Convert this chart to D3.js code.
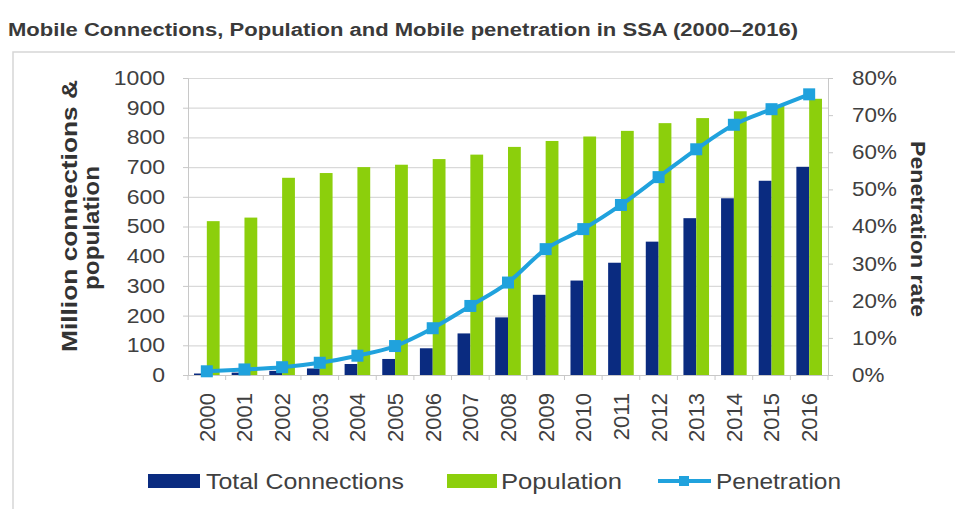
<!DOCTYPE html>
<html>
<head>
<meta charset="utf-8">
<script src="https://cdn.jsdelivr.net/npm/d3@7/dist/d3.min.js"></script>
<style>
  html, body { margin: 0; padding: 0; background: #fff; }
  svg { display: block; }
  text { font-family: "Liberation Sans", Arial, sans-serif; }
</style>
</head>
<body>
<svg id="chart" width="955" height="509"></svg>
<script>
const years = ["2000","2001","2002","2003","2004","2005","2006","2007","2008","2009","2010","2011","2012","2013","2014","2015","2016"];
const connections = [5, 8, 14, 22, 37, 54, 90, 140, 194, 270, 318, 378, 449, 528, 595, 654, 701];
const population = [518, 530, 664, 680, 700, 708, 727, 742, 768, 788, 803, 822, 848, 865, 888, 910, 930];
const penetration = [0.010, 0.015, 0.021, 0.033, 0.052, 0.078, 0.126, 0.186, 0.249, 0.339, 0.393, 0.458, 0.533, 0.608, 0.674, 0.716, 0.756];
const leftTicks = [0, 100, 200, 300, 400, 500, 600, 700, 800, 900, 1000];
const rightTicks = [0, 0.1, 0.2, 0.3, 0.4, 0.5, 0.6, 0.7, 0.8];
const seriesNames = ["Total Connections", "Population", "Penetration"];
const title = "Mobile Connections, Population and Mobile penetration in SSA (2000\u20132016)";

const C_NAVY = "#0a2b80", C_GREEN = "#8ccf0c", C_BLUE = "#20a2dd";
const svg = d3.select("#chart");

const plot = {left: 188, right: 828, top: 78, bottom: 375};
const x = d3.scaleBand().domain(years).range([plot.left, plot.right]).paddingInner(0).paddingOuter(0);
const sub = d3.scaleBand().domain(["c","p"]).range([0, x.bandwidth()]).paddingInner(0).paddingOuter(0.47);
const yL = d3.scaleLinear().domain([0, 1000]).range([plot.bottom, plot.top]);
const yR = d3.scaleLinear().domain([0, 0.8]).range([plot.bottom, plot.top]);

function stretch(sel, k) {
  sel.each(function() {
    const w = this.getComputedTextLength();
    d3.select(this).attr("textLength", w * k).attr("lengthAdjust", "spacingAndGlyphs");
  });
}

// outer frame
svg.append("rect").attr("x", 13).attr("y", 52).attr("width", 960).attr("height", 480)
  .attr("fill", "none").attr("stroke", "#d6d6d6").attr("stroke-width", 1.5);

// title
svg.append("text").attr("x", 8).attr("y", 36).attr("font-size", 18).attr("font-weight", "bold")
  .attr("fill", "#3a3a3a").attr("textLength", 790).attr("lengthAdjust", "spacingAndGlyphs").text(title);

// gridlines
svg.append("g").selectAll("line").data(leftTicks.filter(d => d > 0)).join("line")
  .attr("x1", plot.left).attr("x2", plot.right)
  .attr("y1", d => yL(d) + 0.5).attr("y2", d => yL(d) + 0.5)
  .attr("stroke", "#d9d9d9").attr("stroke-width", 1.2);

// left axis
const gL = svg.append("g").attr("transform", `translate(${plot.left},0)`)
  .call(d3.axisLeft(yL).tickValues(leftTicks).tickSize(5).tickPadding(18).tickFormat(d3.format("d")));
gL.select(".domain").attr("stroke", "#c8c8c8");
gL.selectAll(".tick line").attr("stroke", "#c8c8c8");
gL.selectAll("text").attr("font-size", 20).attr("fill", "#404040").attr("font-family", "Liberation Sans, Arial, sans-serif");
stretch(gL.selectAll("text"), 1.15);

// right axis
const gR = svg.append("g").attr("transform", `translate(${plot.right},0)`)
  .call(d3.axisRight(yR).tickValues(rightTicks).tickSize(5).tickPadding(19).tickFormat(d3.format(".0%")));
gR.select(".domain").attr("stroke", "#c8c8c8");
gR.selectAll(".tick line").attr("stroke", "#c8c8c8");
gR.selectAll("text").attr("font-size", 20).attr("fill", "#404040").attr("font-family", "Liberation Sans, Arial, sans-serif");
stretch(gR.selectAll("text"), 1.12);

// bottom axis
const gB = svg.append("g").attr("transform", `translate(0,${plot.bottom})`);
gB.append("line").attr("x1", plot.left).attr("x2", plot.right).attr("y1", 0.5).attr("y2", 0.5).attr("stroke", "#c8c8c8");
gB.selectAll("line.tk").data(years.concat(["end"])).join("line").attr("class", "tk")
  .attr("x1", (d, i) => i < years.length ? x(d) : plot.right)
  .attr("x2", (d, i) => i < years.length ? x(d) : plot.right)
  .attr("y1", 0).attr("y2", 5).attr("stroke", "#c8c8c8");
gB.selectAll("text").data(years).join("text")
  .attr("transform", d => `translate(${x(d) + x.bandwidth() / 2},18) rotate(-90)`)
  .attr("text-anchor", "end").attr("dy", "0.36em")
  .attr("font-size", 22).attr("fill", "#404040").text(d => d);

// bars
const bars = svg.append("g");
bars.selectAll("rect.c").data(years).join("rect").attr("class", "c")
  .attr("x", d => x(d) + sub("c")).attr("width", sub.bandwidth())
  .attr("y", (d, i) => yL(connections[i])).attr("height", (d, i) => yL(0) - yL(connections[i]))
  .attr("fill", C_NAVY);
bars.selectAll("rect.p").data(years).join("rect").attr("class", "p")
  .attr("x", d => x(d) + sub("p")).attr("width", sub.bandwidth())
  .attr("y", (d, i) => yL(population[i])).attr("height", (d, i) => yL(0) - yL(population[i]))
  .attr("fill", C_GREEN);

// penetration line
const line = d3.line().x((d, i) => x(years[i]) + x.bandwidth() / 2).y(d => yR(d)).curve(d3.curveMonotoneX);
svg.append("path").datum(penetration).attr("d", line).attr("fill", "none")
  .attr("stroke", C_BLUE).attr("stroke-width", 4);
svg.append("g").selectAll("rect").data(penetration).join("rect")
  .attr("x", (d, i) => x(years[i]) + x.bandwidth() / 2 - 6).attr("y", d => yR(d) - 6)
  .attr("width", 12).attr("height", 12).attr("fill", C_BLUE);

// axis titles
svg.append("text").attr("transform", "translate(77,216) rotate(-90)").attr("text-anchor", "middle")
  .attr("font-size", 22).attr("font-weight", "bold").attr("fill", "#333")
  .attr("textLength", 272).attr("lengthAdjust", "spacingAndGlyphs").text("Million connections &");
svg.append("text").attr("transform", "translate(99,228) rotate(-90)").attr("text-anchor", "middle")
  .attr("font-size", 22).attr("font-weight", "bold").attr("fill", "#333")
  .attr("textLength", 124).attr("lengthAdjust", "spacingAndGlyphs").text("population");
svg.append("text").attr("transform", "translate(911,229) rotate(90)").attr("text-anchor", "middle")
  .attr("font-size", 21).attr("font-weight", "bold").attr("fill", "#333")
  .attr("textLength", 176).attr("lengthAdjust", "spacingAndGlyphs").text("Penetration rate");

// legend
const lg = svg.append("g");
const ly = 481;
lg.append("rect").attr("x", 148).attr("y", ly - 7).attr("width", 52).attr("height", 14).attr("fill", C_NAVY);
lg.append("text").attr("x", 206).attr("y", ly).attr("dy", "0.36em").attr("font-size", 22).attr("fill", "#404040")
  .attr("textLength", 198).attr("lengthAdjust", "spacingAndGlyphs").text(seriesNames[0]);
lg.append("rect").attr("x", 447).attr("y", ly - 7).attr("width", 50).attr("height", 14).attr("fill", C_GREEN);
lg.append("text").attr("x", 501).attr("y", ly).attr("dy", "0.36em").attr("font-size", 22).attr("fill", "#404040")
  .attr("textLength", 121).attr("lengthAdjust", "spacingAndGlyphs").text(seriesNames[1]);
lg.append("line").attr("x1", 658).attr("x2", 711).attr("y1", ly).attr("y2", ly).attr("stroke", C_BLUE).attr("stroke-width", 4);
lg.append("rect").attr("x", 679).attr("y", ly - 5).attr("width", 10).attr("height", 10).attr("fill", C_BLUE);
lg.append("text").attr("x", 716).attr("y", ly).attr("dy", "0.36em").attr("font-size", 22).attr("fill", "#404040")
  .attr("textLength", 125).attr("lengthAdjust", "spacingAndGlyphs").text(seriesNames[2]);
</script>
</body>
</html>
